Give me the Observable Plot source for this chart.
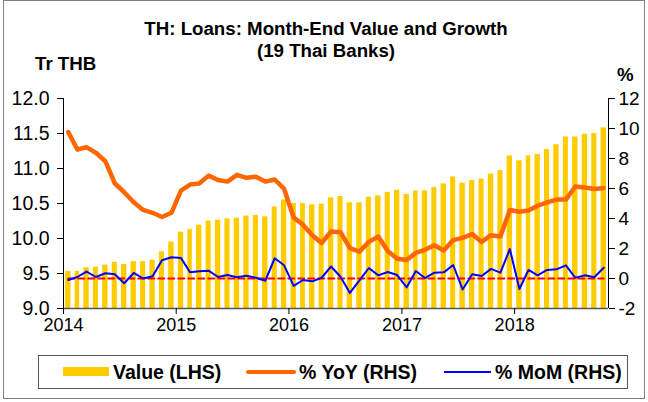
<!DOCTYPE html>
<html><head><meta charset="utf-8">
<script src="https://cdn.jsdelivr.net/npm/d3@7"></script>
<script src="https://cdn.jsdelivr.net/npm/@observablehq/plot@0.6"></script>
<style>
body{margin:0;background:#fff;font-family:Arial,"Liberation Sans",sans-serif;}
#wrap{position:relative;width:648px;height:402px;overflow:hidden;background:#fff;}
#border{position:absolute;left:3px;top:0;width:642px;height:399px;border:1px solid #808080;box-sizing:border-box;}
.t{position:absolute;font-weight:bold;font-size:18.7px;line-height:20px;color:#000;white-space:nowrap;}
#chart{position:absolute;left:0;top:0;}
#legend{position:absolute;left:38px;top:355px;width:590px;height:34px;border:1px solid #555;box-sizing:border-box;background:#fff;}
.sw{position:absolute;}
.lt{position:absolute;top:6px;font-weight:bold;font-size:19.5px;line-height:20px;white-space:nowrap;}
</style></head>
<body>
<div id="wrap">
  <div id="border"></div>
  <div id="chart"></div>
  <div class="t" style="left:0;width:652px;text-align:center;top:19px;">TH: Loans: Month-End Value and Growth</div>
  <div class="t" style="left:0;width:652px;text-align:center;top:41px;">(19 Thai Banks)</div>
  <div class="t" style="left:35px;top:54px;">Tr THB</div>
  <div class="t" style="left:617px;top:65px;">%</div>
  <div id="legend">
    <div class="sw" style="left:24px;top:11px;width:46px;height:9px;background:#FFCC00;"></div>
    <div class="lt" style="left:74px;">Value (LHS)</div>
    <div class="sw" style="left:207px;top:14px;width:50px;height:4px;background:#FF6600;border-radius:2px;"></div>
    <div class="lt" style="left:260px;">% YoY (RHS)</div>
    <div class="sw" style="left:405px;top:15px;width:47px;height:2px;background:#0000FF;"></div>
    <div class="lt" style="left:456px;">% MoM (RHS)</div>
  </div>
</div>
<script>
// Monthly categories: Jan 2014 .. Oct 2018
const startMonth = "2014-01-01";
const endMonth = "2018-11-01";
// Loans month-end value (Tr THB, LHS)
const value = [9.53,9.53,9.58,9.59,9.62,9.66,9.63,9.67,9.67,9.69,9.81,9.95,
  10.09,10.13,10.19,10.25,10.26,10.28,10.29,10.32,10.33,10.31,10.45,10.55,
  10.50,10.50,10.48,10.49,10.58,10.60,10.51,10.51,10.59,10.61,10.66,10.69,
  10.63,10.68,10.68,10.73,10.78,10.88,10.79,10.83,10.85,10.92,10.97,11.18,
  11.11,11.18,11.20,11.27,11.34,11.45,11.45,11.49,11.50,11.58];
// % YoY (RHS)
const yoy = [9.76,8.60,8.76,8.38,7.82,6.35,5.75,5.08,4.57,4.38,4.10,4.38,
  5.86,6.26,6.33,6.86,6.57,6.46,6.91,6.71,6.78,6.46,6.60,5.97,
  4.07,3.58,2.89,2.37,3.13,3.09,2.02,1.79,2.44,2.80,1.84,1.32,
  1.24,1.71,1.91,2.22,1.86,2.56,2.71,2.96,2.44,2.89,2.80,4.57,
  4.45,4.54,4.85,5.08,5.26,5.26,6.13,6.06,5.97,6.04];
// % MoM (RHS)
const mom = [-0.10,0.10,0.46,0.10,0.35,0.28,-0.32,0.37,0.00,0.15,1.22,1.42,
  1.37,0.41,0.49,0.52,0.10,0.23,0.08,0.19,0.05,-0.15,1.35,0.88,
  -0.49,-0.10,-0.19,0.05,0.80,0.12,-0.96,-0.13,0.70,0.21,0.43,0.23,
  -0.59,0.50,0.03,0.39,0.41,0.90,-0.73,0.28,0.17,0.64,0.39,1.96,
  -0.70,0.57,0.21,0.57,0.61,0.88,0.05,0.21,0.08,0.72];
const leftTicks = [9.0,9.5,10.0,10.5,11.0,11.5,12.0];
const rightTicks = [-2,0,2,4,6,8,10,12];
const yearTicks = ["2014","2015","2016","2017","2018"];

const leftDomain = [9, 12];
const rightDomain = [-2, 12];
const toLeft = p => leftDomain[0] + (p - rightDomain[0]) * (leftDomain[1]-leftDomain[0]) / (rightDomain[1]-rightDomain[0]);
const fromLeft = v => rightDomain[0] + (v - leftDomain[0]) * (rightDomain[1]-rightDomain[0]) / (leftDomain[1]-leftDomain[0]);

const months = d3.utcMonths(new Date(startMonth), new Date(endMonth));
const data = months.map((d, i) => ({
  start: d,
  end: d3.utcMonth.offset(d, 1),
  mid: new Date((d.getTime() + d3.utcMonth.offset(d, 1).getTime()) / 2),
  value: value[i], yoy: yoy[i], mom: mom[i]
}));
const x0 = new Date(startMonth), x1 = new Date(endMonth);

const chart = Plot.plot({
  width: 648, height: 340,
  marginLeft: 63, marginRight: 40, marginTop: 98, marginBottom: 32,
  style: {fontFamily: "Arial, 'Liberation Sans', sans-serif", color: "#000", background: "transparent"},
  x: {type: "utc", domain: [x0, x1]},
  y: {domain: leftDomain},
  marks: [
    Plot.rectY(data, {x1: "start", x2: "end", y1: leftDomain[0], y2: "value", fill: "#FFCC00", insetLeft: 2.1, insetRight: 2.1}),
    Plot.line(data, {x: "mid", y: () => toLeft(0), stroke: "#FF0000", strokeWidth: 2, strokeDasharray: "6,4"}),
    Plot.line(data, {x: "mid", y: d => toLeft(d.yoy), stroke: "#FF6600", strokeWidth: 4.5, strokeLinejoin: "round", strokeLinecap: "round"}),
    Plot.line(data, {x: "mid", y: d => toLeft(d.mom), stroke: "#0000FF", strokeWidth: 2}),
    Plot.ruleX([x0], {y1: leftDomain[0], y2: leftDomain[1], stroke: "#000"}),
    Plot.ruleX([x1], {y1: leftDomain[0], y2: leftDomain[1], stroke: "#000"}),
    Plot.ruleY([leftDomain[0]], {stroke: "#555", strokeWidth: 1.5}),
    Plot.axisY({anchor: "left", ticks: leftTicks, tickFormat: d3.format(".1f"), tickSize: 6, tickPadding: 8, fontSize: 19.5, label: null, stroke: "#000"}),
    Plot.axisY({anchor: "right", ticks: rightTicks.map(toLeft), tickFormat: v => String(Math.round(fromLeft(v))), tickSize: 6, tickPadding: 4, fontSize: 19, label: null, stroke: "#000"}),
    Plot.axisX({ticks: yearTicks.map(y => new Date(y + "-01-01")), tickFormat: d3.utcFormat("%Y"), tickSize: 6, tickPadding: 4, fontSize: 18, label: null, stroke: "#000"})
  ]
});
document.getElementById("chart").appendChild(chart);
</script>
</body></html>
